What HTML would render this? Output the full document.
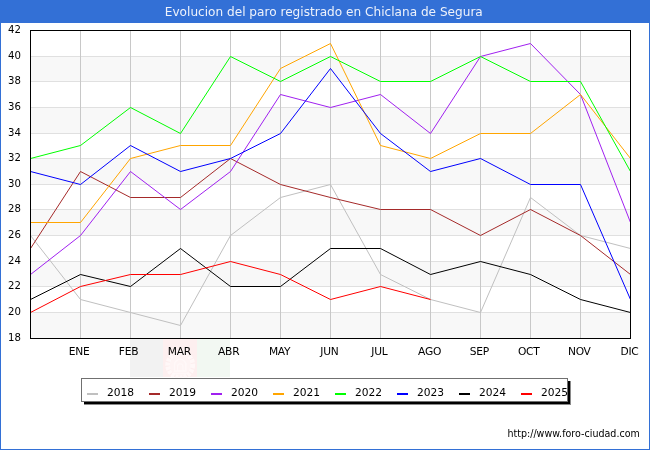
<!DOCTYPE html>
<html><head><meta charset="utf-8"><title>Evolucion del paro registrado en Chiclana de Segura</title>
<style>
html,body{margin:0;padding:0;background:#fff;}
svg{display:block;}
text{font-family:"DejaVu Sans","Liberation Sans",sans-serif;}
</style></head><body>
<svg width="650" height="450" viewBox="0 0 650 450">

<rect x="0" y="0" width="650" height="450" fill="#3370d6"/>
<rect x="1" y="23" width="648" height="426" fill="#ffffff"/>
<rect x="30" y="56" width="600" height="25" fill="#f8f8f8"/>
<rect x="30" y="107" width="600" height="26" fill="#f8f8f8"/>
<rect x="30" y="158" width="600" height="26" fill="#f8f8f8"/>
<rect x="30" y="209" width="600" height="26" fill="#f8f8f8"/>
<rect x="30" y="261" width="600" height="25" fill="#f8f8f8"/>
<rect x="30" y="312" width="600" height="26" fill="#f8f8f8"/>
<rect x="30" y="56" width="600" height="1" fill="#e0e0e0"/>
<rect x="30" y="81" width="600" height="1" fill="#e0e0e0"/>
<rect x="30" y="107" width="600" height="1" fill="#e0e0e0"/>
<rect x="30" y="133" width="600" height="1" fill="#e0e0e0"/>
<rect x="30" y="158" width="600" height="1" fill="#e0e0e0"/>
<rect x="30" y="184" width="600" height="1" fill="#e0e0e0"/>
<rect x="30" y="209" width="600" height="1" fill="#e0e0e0"/>
<rect x="30" y="235" width="600" height="1" fill="#e0e0e0"/>
<rect x="30" y="261" width="600" height="1" fill="#e0e0e0"/>
<rect x="30" y="286" width="600" height="1" fill="#e0e0e0"/>
<rect x="30" y="312" width="600" height="1" fill="#e0e0e0"/>
<rect x="80" y="30" width="1" height="308" fill="#c8c8c8"/>
<rect x="130" y="30" width="1" height="308" fill="#c8c8c8"/>
<rect x="180" y="30" width="1" height="308" fill="#c8c8c8"/>
<rect x="230" y="30" width="1" height="308" fill="#c8c8c8"/>
<rect x="280" y="30" width="1" height="308" fill="#c8c8c8"/>
<rect x="330" y="30" width="1" height="308" fill="#c8c8c8"/>
<rect x="380" y="30" width="1" height="308" fill="#c8c8c8"/>
<rect x="430" y="30" width="1" height="308" fill="#c8c8c8"/>
<rect x="480" y="30" width="1" height="308" fill="#c8c8c8"/>
<rect x="530" y="30" width="1" height="308" fill="#c8c8c8"/>
<rect x="580" y="30" width="1" height="308" fill="#c8c8c8"/>
<rect x="130" y="339" width="33" height="38" fill="#f2f2f2"/><rect x="163" y="339" width="34" height="38" fill="#fdefef"/><rect x="197" y="339" width="33" height="38" fill="#f2f8f2"/>
<circle cx="180.2" cy="365" r="11" fill="#fef4f4"/><g fill="none" stroke="#fff9f9"><circle cx="180.2" cy="365" r="12.6" stroke-width="4.6" stroke-dasharray="3.2 1.1" opacity="0.85"/><path d="M174.5 371 v-6 a5.7 5.7 0 0 1 11.4 0 v6 z" stroke-width="1.6" opacity="0.8"/><path d="M177.5 371 v-4.5 a2.7 2.7 0 0 1 5.4 0 v4.5" stroke-width="1.2" opacity="0.8"/><path d="M172 373.5 h16.4" stroke-width="1.6" opacity="0.7"/></g>
<polyline points="30.5,235.5 80.5,299.5 130.5,312.5 180.5,325.5 230.5,235.5 280.5,197.5 330.5,184.5 380.5,274.5 430.5,299.5 480.5,312.5 530.5,197.5 580.5,235.5 630.5,248.5" fill="none" stroke="#c0c0c0" stroke-width="1" stroke-linejoin="round"/>
<polyline points="30.5,248.5 80.5,171.5 130.5,197.5 180.5,197.5 230.5,158.5 280.5,184.5 330.5,197.5 380.5,209.5 430.5,209.5 480.5,235.5 530.5,209.5 580.5,235.5 630.5,274.5" fill="none" stroke="#a52a2a" stroke-width="1" stroke-linejoin="round"/>
<polyline points="30.5,274.5 80.5,235.5 130.5,171.5 180.5,209.5 230.5,171.5 280.5,94.5 330.5,107.5 380.5,94.5 430.5,133.5 480.5,56.5 530.5,43.5 580.5,94.5 630.5,222.5" fill="none" stroke="#a020f0" stroke-width="1" stroke-linejoin="round"/>
<polyline points="30.5,222.5 80.5,222.5 130.5,158.5 180.5,145.5 230.5,145.5 280.5,68.5 330.5,43.5 380.5,145.5 430.5,158.5 480.5,133.5 530.5,133.5 580.5,94.5 630.5,158.5" fill="none" stroke="#ffa500" stroke-width="1" stroke-linejoin="round"/>
<polyline points="30.5,158.5 80.5,145.5 130.5,107.5 180.5,133.5 230.5,56.5 280.5,81.5 330.5,56.5 380.5,81.5 430.5,81.5 480.5,56.5 530.5,81.5 580.5,81.5 630.5,171.5" fill="none" stroke="#00ff00" stroke-width="1" stroke-linejoin="round"/>
<polyline points="30.5,171.5 80.5,184.5 130.5,145.5 180.5,171.5 230.5,158.5 280.5,133.5 330.5,68.5 380.5,133.5 430.5,171.5 480.5,158.5 530.5,184.5 580.5,184.5 630.5,299.5" fill="none" stroke="#0000ff" stroke-width="1" stroke-linejoin="round"/>
<polyline points="30.5,299.5 80.5,274.5 130.5,286.5 180.5,248.5 230.5,286.5 280.5,286.5 330.5,248.5 380.5,248.5 430.5,274.5 480.5,261.5 530.5,274.5 580.5,299.5 630.5,312.5" fill="none" stroke="#000000" stroke-width="1" stroke-linejoin="round"/>
<polyline points="30.5,312.5 80.5,286.5 130.5,274.5 180.5,274.5 230.5,261.5 280.5,274.5 330.5,299.5 380.5,286.5 430.5,299.5" fill="none" stroke="#ff0000" stroke-width="1" stroke-linejoin="round"/>
<rect x="30.5" y="30.5" width="600" height="308" fill="none" stroke="#000" stroke-width="1"/>
<text x="21" y="33" font-size="10.67" text-anchor="end" textLength="12.9" lengthAdjust="spacingAndGlyphs" fill="#000">42</text>
<text x="21" y="59" font-size="10.67" text-anchor="end" textLength="12.9" lengthAdjust="spacingAndGlyphs" fill="#000">40</text>
<text x="21" y="84" font-size="10.67" text-anchor="end" textLength="12.9" lengthAdjust="spacingAndGlyphs" fill="#000">38</text>
<text x="21" y="110" font-size="10.67" text-anchor="end" textLength="12.9" lengthAdjust="spacingAndGlyphs" fill="#000">36</text>
<text x="21" y="136" font-size="10.67" text-anchor="end" textLength="12.9" lengthAdjust="spacingAndGlyphs" fill="#000">34</text>
<text x="21" y="161" font-size="10.67" text-anchor="end" textLength="12.9" lengthAdjust="spacingAndGlyphs" fill="#000">32</text>
<text x="21" y="187" font-size="10.67" text-anchor="end" textLength="12.9" lengthAdjust="spacingAndGlyphs" fill="#000">30</text>
<text x="21" y="212" font-size="10.67" text-anchor="end" textLength="12.9" lengthAdjust="spacingAndGlyphs" fill="#000">28</text>
<text x="21" y="238" font-size="10.67" text-anchor="end" textLength="12.9" lengthAdjust="spacingAndGlyphs" fill="#000">26</text>
<text x="21" y="264" font-size="10.67" text-anchor="end" textLength="12.9" lengthAdjust="spacingAndGlyphs" fill="#000">24</text>
<text x="21" y="289" font-size="10.67" text-anchor="end" textLength="12.9" lengthAdjust="spacingAndGlyphs" fill="#000">22</text>
<text x="21" y="315" font-size="10.67" text-anchor="end" textLength="12.9" lengthAdjust="spacingAndGlyphs" fill="#000">20</text>
<text x="21" y="341" font-size="10.67" text-anchor="end" textLength="12.9" lengthAdjust="spacingAndGlyphs" fill="#000">18</text>
<text x="79.2" y="355" font-size="10.67" letter-spacing="-0.25" text-anchor="middle" fill="#000">ENE</text>
<text x="128.5" y="355" font-size="10.67" letter-spacing="-0.25" text-anchor="middle" fill="#000">FEB</text>
<text x="179.3" y="355" font-size="10.67" letter-spacing="-0.25" text-anchor="middle" fill="#000">MAR</text>
<text x="228.7" y="355" font-size="10.67" letter-spacing="-0.25" text-anchor="middle" fill="#000">ABR</text>
<text x="279.6" y="355" font-size="10.67" letter-spacing="-0.25" text-anchor="middle" fill="#000">MAY</text>
<text x="329.4" y="355" font-size="10.67" letter-spacing="-0.25" text-anchor="middle" fill="#000">JUN</text>
<text x="379.4" y="355" font-size="10.67" letter-spacing="-0.25" text-anchor="middle" fill="#000">JUL</text>
<text x="429.6" y="355" font-size="10.67" letter-spacing="-0.25" text-anchor="middle" fill="#000">AGO</text>
<text x="479.4" y="355" font-size="10.67" letter-spacing="-0.25" text-anchor="middle" fill="#000">SEP</text>
<text x="528.7" y="355" font-size="10.67" letter-spacing="-0.25" text-anchor="middle" fill="#000">OCT</text>
<text x="579.3" y="355" font-size="10.67" letter-spacing="-0.25" text-anchor="middle" fill="#000">NOV</text>
<text x="629.5" y="355" font-size="10.67" letter-spacing="-0.25" text-anchor="middle" fill="#000">DIC</text>
<text x="164.8" y="15.9" font-size="12.5" textLength="318" lengthAdjust="spacingAndGlyphs" fill="#eef2fb">Evolucion del paro registrado en Chiclana de Segura</text>
<rect x="84" y="381" width="487" height="24" fill="#8a8a8a"/>
<rect x="84" y="381" width="486" height="23" fill="#000"/>
<rect x="81.5" y="378.5" width="486" height="23" fill="#fff" stroke="#707070" stroke-width="1"/>
<rect x="87" y="393" width="11" height="2" fill="#c0c0c0"/>
<text x="107" y="396" font-size="10.67" fill="#000">2018</text>
<rect x="149" y="393" width="11" height="2" fill="#a52a2a"/>
<text x="169" y="396" font-size="10.67" fill="#000">2019</text>
<rect x="211" y="393" width="11" height="2" fill="#a020f0"/>
<text x="231" y="396" font-size="10.67" fill="#000">2020</text>
<rect x="273" y="393" width="11" height="2" fill="#ffa500"/>
<text x="293" y="396" font-size="10.67" fill="#000">2021</text>
<rect x="335" y="393" width="11" height="2" fill="#00ff00"/>
<text x="355" y="396" font-size="10.67" fill="#000">2022</text>
<rect x="397" y="393" width="11" height="2" fill="#0000ff"/>
<text x="417" y="396" font-size="10.67" fill="#000">2023</text>
<rect x="459" y="393" width="11" height="2" fill="#000000"/>
<text x="479" y="396" font-size="10.67" fill="#000">2024</text>
<rect x="521" y="393" width="11" height="2" fill="#ff0000"/>
<text x="541" y="396" font-size="10.67" fill="#000">2025</text>
<text x="507.4" y="437.4" font-size="10.2" textLength="132.4" lengthAdjust="spacingAndGlyphs" fill="#000">http://www.foro-ciudad.com</text>
</svg></body></html>
